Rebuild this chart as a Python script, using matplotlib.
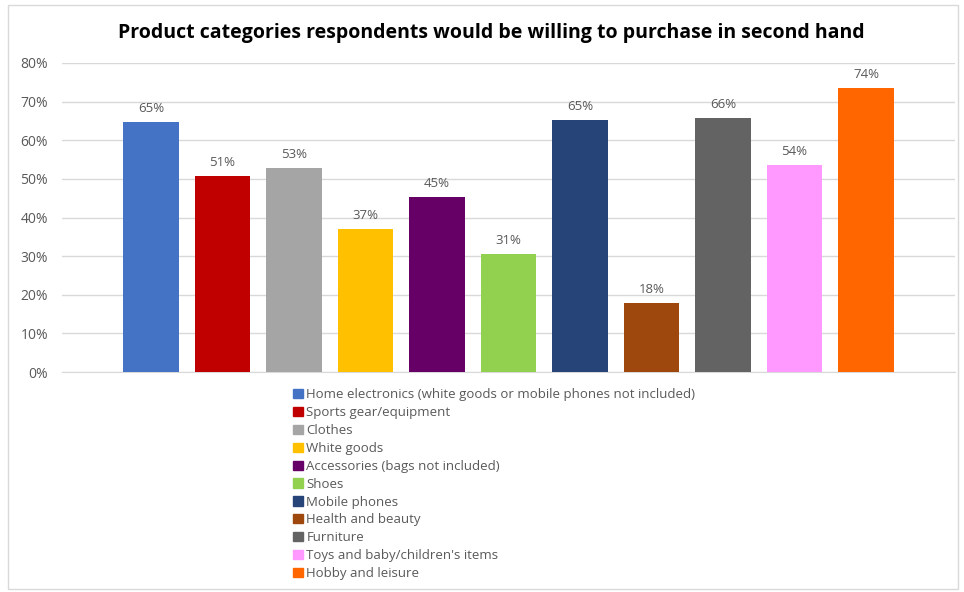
import matplotlib.pyplot as plt
from matplotlib.patches import Rectangle

categories = [
    "Home electronics (white goods or mobile phones not included)",
    "Sports gear/equipment",
    "Clothes",
    "White goods",
    "Accessories (bags not included)",
    "Shoes",
    "Mobile phones",
    "Health and beauty",
    "Furniture",
    "Toys and baby/children's items",
    "Hobby and leisure",
]
values = [64.7, 50.7, 52.8, 37.0, 45.3, 30.5, 65.2, 17.9, 65.8, 53.6, 73.5]
labels = ["65%", "51%", "53%", "37%", "45%", "31%", "65%", "18%", "66%", "54%", "74%"]
colors = ["#4472C4", "#C00000", "#A5A5A5", "#FFC000", "#660066", "#92D050",
          "#264478", "#9E480E", "#636363", "#FF99FF", "#FF6600"]
yticks = [0, 10, 20, 30, 40, 50, 60, 70, 80]

plt.rcParams['font.family'] = ['Open Sans', 'DejaVu Sans']
text_grey = "#595959"

fig = plt.figure(figsize=(9.64, 5.92), dpi=100)
W, H = 964, 592
ax = fig.add_axes([62 / W, 1 - 372 / H, (955 - 62) / W, (372 - 63) / H])

x = list(range(len(values)))
ax.bar(x, values, width=0.78, color=colors, zorder=3)
for xi, v, lab in zip(x, values, labels):
    ax.annotate(lab, (xi, v), xytext=(0, 5), textcoords="offset points",
                ha="center", va="bottom", fontsize=9.5, color=text_grey)

ax.set_xlim(-1.245, 11.245)
ax.set_ylim(0, 80)
ax.set_yticks(yticks)
ax.set_yticklabels([f"{t}%" for t in yticks], fontsize=10, color=text_grey)
ax.set_xticks([])
ax.tick_params(axis="y", length=0, pad=10)
ax.grid(axis="y", color="#D9D9D9", linewidth=1, zorder=0)
for s in ["top", "right", "left"]:
    ax.spines[s].set_visible(False)
ax.spines["bottom"].set_color("#D9D9D9")

fig.text(491 / W, 1 - 33 / H, "Product categories respondents would be willing to purchase in second hand",
         ha="center", va="center", fontsize=14, fontweight="bold", color="black")

handles = [Rectangle((0, 0), 1, 1, color=c) for c in colors]
fig.legend(handles, categories, loc="upper left", bbox_to_anchor=(288 / W, 1 - 383 / H),
           frameon=False, fontsize=9.5, labelcolor=text_grey, handlelength=0.7,
           handleheight=0.7, handletextpad=0.3, labelspacing=0.37, borderaxespad=0)

fig.patches.append(Rectangle((8 / W, 3 / H), 950 / W, 584 / H, transform=fig.transFigure,
                             fill=False, edgecolor="#D9D9D9", linewidth=1))

fig.savefig("out.png", dpi=100)
